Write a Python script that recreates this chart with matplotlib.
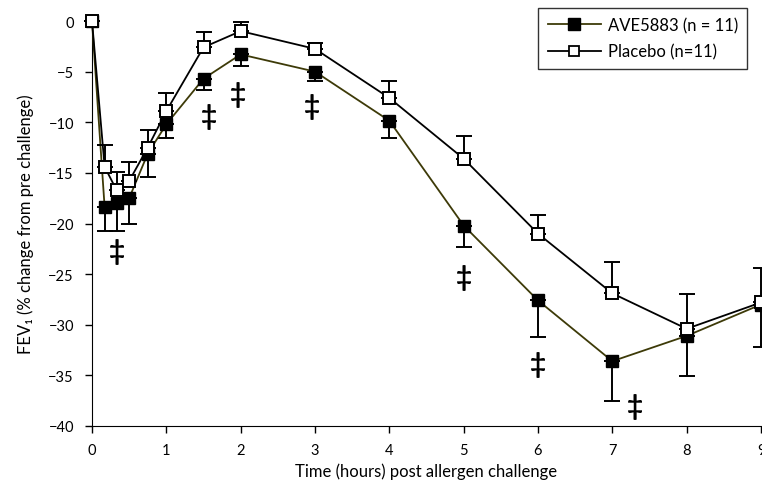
import numpy as np
import matplotlib
matplotlib.use("Agg")
import matplotlib.pyplot as plt
from matplotlib.lines import Line2D

plt.rcParams['font.family'] = ['Lato', 'DejaVu Sans']

hours = [0, 0.17, 0.33, 0.5, 0.75, 1, 1.5, 2, 3, 4, 5, 6, 7, 8, 9]
ave = [0, -18.4, -18.0, -17.5, -13.1, -10.2, -5.7, -3.3, -5.0, -9.85, -20.2, -27.6, -33.6, -31.1, -28.0]
ave_low = [0, -20.7, -20.7, -20.0, -15.4, -11.6, -6.8, -4.4, -5.9, -11.6, -22.3, -31.2, -37.5, -35.1, -32.2]
placebo = [0, -14.4, -16.7, -15.8, -12.5, -8.9, -2.6, -1.0, -2.75, -7.6, -13.6, -21.0, -26.9, -30.4, -27.8]
placebo_high = [0, -12.2, -14.9, -13.9, -10.8, -7.1, -1.1, -0.1, -2.2, -5.9, -11.4, -19.2, -23.8, -27.0, -24.4]

sig_x = [0.33, 1.57, 1.97, 2.96, 5.0, 6.0, 7.31]
sig_y = [-22.7, -9.4, -7.2, -8.4, -25.3, -33.9, -38.0]

ave = np.array(ave)
placebo = np.array(placebo)
ave_err = [ave - np.array(ave_low), np.zeros(len(ave))]
pla_err = [np.zeros(len(placebo)), np.array(placebo_high) - placebo]

fig = plt.figure(figsize=(7.62, 4.89), dpi=100)
ax = fig.add_axes([92 / 762, 1 - 427 / 489, 669 / 762, 405 / 489])

ave_col = '#3d3a08'
ax.errorbar(hours, ave, yerr=ave_err, color=ave_col, lw=1.3, marker='s', ms=8,
            mfc='black', mec='black', ecolor='black', elinewidth=1.4, capsize=6,
            capthick=1.4, clip_on=False, zorder=3)
ax.errorbar(hours, placebo, yerr=pla_err, color='black', lw=1.3, marker='s', ms=8,
            mfc='white', mec='black', mew=1.4, ecolor='black', elinewidth=1.4, capsize=6,
            capthick=1.4, clip_on=False, zorder=4)

for x, y in zip(sig_x, sig_y):
    ax.text(x, y, '‡', ha='center', va='center', fontsize=20, fontweight='bold')

ax.set_xlim(0, 9)
ax.set_ylim(-40, 0)
ax.set_xticks(range(10))
ax.set_yticks(range(-40, 1, 5))
ax.spines['top'].set_visible(False)
ax.spines['right'].set_visible(False)
ax.tick_params(direction='out', length=5, width=1, labelsize=10.5)
ax.tick_params(axis='y', pad=8)
ax.tick_params(axis='x', pad=7)
ax.set_xlabel('Time (hours) post allergen challenge', fontsize=12)
ax.set_ylabel('FEV₁ (% change from pre challenge)', fontsize=12, labelpad=10)

handles = [
    Line2D([], [], color=ave_col, lw=1.3, marker='s', ms=8, mfc='black', mec='black'),
    Line2D([], [], color='black', lw=1.3, marker='s', ms=7, mfc='white', mec='black', mew=1.3),
]
leg = ax.legend(handles, ['AVE5883 (n = 11)', 'Placebo (n=11)'], loc='upper right',
                bbox_to_anchor=(747 / 762, 1 - 9 / 489), bbox_transform=fig.transFigure,
                fancybox=False, edgecolor='black', fontsize=12, handlelength=3.2,
                handletextpad=0.4, borderpad=0.55, labelspacing=0.6, borderaxespad=0)
leg.get_frame().set_linewidth(1.0)

fig.savefig('out.png', dpi=100)
